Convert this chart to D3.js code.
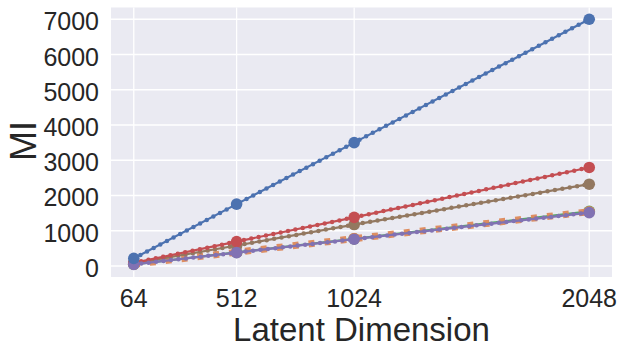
<!DOCTYPE html>
<html><head><meta charset="utf-8">
<script src="https://cdn.jsdelivr.net/npm/d3@7"></script>
<style>body{margin:0;background:#fff}svg{display:block}text{font-family:"Liberation Sans",Arial,sans-serif;fill:#262626}</style>
</head><body><svg id="c" width="625" height="354"></svg>
<script>
const dims = [64, 512, 1024, 2048];
const xTicks = [64, 512, 1024, 2048];
const yTicks = [0, 1000, 2000, 3000, 4000, 5000, 6000, 7000];
const seriesNames = ["blue", "orange", "green", "red", "purple", "brown"];
const blueVals   = [215, 1755, 3500, 7000];
const orangeVals = [50, 390, 775, 1540];
const greenVals  = [48, 385, 770, 1550];
const redVals    = [88, 692, 1380, 2795];
const purpleVals = [45, 380, 760, 1515];
const brownVals  = [72, 580, 1175, 2320];
const colors = {blue:"#4C72B0", orange:"#DD8452", green:"#55A868", red:"#C44E52", purple:"#8172B3", brown:"#937860"};

const series = [
  {name:"green", vals:greenVals, style:"solid"},
  {name:"orange", vals:orangeVals, style:"square"},
  {name:"brown", vals:brownVals, style:"dots"},
  {name:"red", vals:redVals, style:"dots"},
  {name:"purple", vals:purpleVals, style:"dots"},
  {name:"blue", vals:blueVals, style:"dots"}
];

const L=111, R=612, T=7.5, B=277;
const svg = d3.select("#c");
const allV = series.flatMap(s=>s.vals);
const ymin=d3.min(allV), ymax=d3.max(allV), ym=(ymax-ymin)*0.05;
const xm=(2048-64)*0.05;
const x = d3.scaleLinear().domain([64-xm, 2048+xm]).range([L,R]);
const y = d3.scaleLinear().domain([ymin-ym-10, ymax+ym-14]).range([B,T]);

svg.append("rect").attr("x",L).attr("y",T).attr("width",R-L).attr("height",B-T).attr("fill","#EAEAF2");
const g = svg.append("g");
g.selectAll(".gx").data(xTicks).join("line").attr("x1",d=>x(d)).attr("x2",d=>x(d)).attr("y1",T).attr("y2",B).attr("stroke","#fff").attr("stroke-width",1.3);
g.selectAll(".gy").data(yTicks).join("line").attr("y1",d=>y(d)).attr("y2",d=>y(d)).attr("x1",L).attr("x2",R).attr("stroke","#fff").attr("stroke-width",1.3);

svg.selectAll(".tx").data(xTicks).join("text").attr("x",d=>x(d)).attr("y",307).attr("text-anchor","middle").attr("font-size",25).text(d=>d);
svg.selectAll(".ty").data(yTicks).join("text").attr("x",99).attr("y",d=>y(d)+11).attr("text-anchor","end").attr("font-size",25).text(d=>d);
svg.append("text").attr("x",(L+R)/2).attr("y",341).attr("text-anchor","middle").attr("font-size",33).text("Latent Dimension");
svg.append("text").attr("transform","translate(36,141) rotate(-90)").attr("text-anchor","middle").attr("font-size",36).text("MI");

const line = d3.line().x((d,i)=>x(dims[i])).y(d=>y(d));
series.forEach(s=>{
  const c = colors[s.name];
  if(s.style==="square"){
    svg.append("path").attr("d",line(s.vals)).attr("fill","none").attr("stroke",c).attr("stroke-width",7).attr("stroke-dasharray","6,10").attr("opacity",0.9);
  } else {
    svg.append("path").attr("d",line(s.vals)).attr("fill","none").attr("stroke",c).attr("stroke-width",2.2);
    if(s.style==="dots"){
      svg.append("path").attr("d",line(s.vals)).attr("fill","none").attr("stroke",c).attr("stroke-width",4.5).attr("stroke-linecap","round").attr("stroke-dasharray","0,7.5");
    }
  }
  svg.selectAll(null).data(s.vals).join("circle").attr("cx",(d,i)=>x(dims[i])).attr("cy",d=>y(d)).attr("r",5.8).attr("fill",c);
});
</script></body></html>
